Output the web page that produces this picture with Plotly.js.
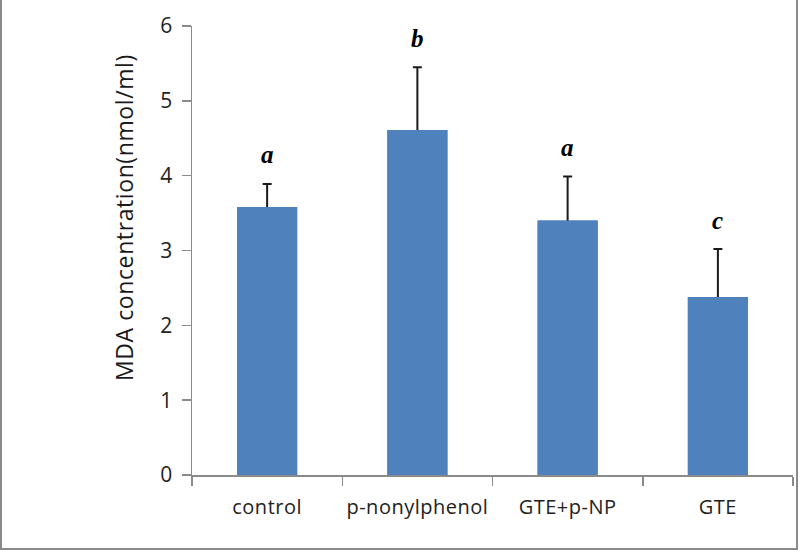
<!DOCTYPE html>
<html>
<head>
<meta charset="utf-8">
<script src="https://cdn.plot.ly/plotly-3.0.1.min.js"></script>
<style>
html,body{margin:0;padding:0;background:#fff;}
#wrap{position:relative;width:800px;height:553px;}
#chart{width:800px;height:553px;}
#frame{position:absolute;left:0;top:-3px;width:798px;height:553px;border:2px solid #8a8a8a;border-top:none;pointer-events:none;box-sizing:border-box;}
#chart .xtick text{letter-spacing:0.5px;}
</style>
</head>
<body>
<div id="wrap"><div id="chart"></div><div id="frame"></div></div>
<script>
var categories = ["control", "p-nonylphenol", "GTE+p-NP", "GTE"];
var means = [3.58, 4.61, 3.40, 2.38];
var errors = [0.31, 0.84, 0.59, 0.64];
var letters = ["a", "b", "a", "c"];
var yTicks = [0, 1, 2, 3, 4, 5, 6];
var yTitle = "MDA concentration(nmol/ml)";

var barColor = "#4F81BD";

// error bars (drawn first, then covered below the bar tops by the bars)
var errTrace = {
  type: "bar",
  x: categories,
  y: means,
  marker: {color: barColor, line: {width: 0}},
  error_y: {
    type: "data",
    symmetric: false,
    array: errors,
    arrayminus: errors.map(function(){return 0.15;}),
    color: "#1a1a1a",
    thickness: 2,
    width: 4.5
  },
  hoverinfo: "none"
};
var barTrace = {
  type: "bar",
  x: categories,
  y: means,
  marker: {color: barColor, line: {width: 0}},
  hoverinfo: "none"
};

var annotations = categories.map(function(c, i){
  return {
    x: c, y: means[i] + errors[i], xref: "x", yref: "y",
    text: "<b><i>" + letters[i] + "</i></b>",
    showarrow: false, yanchor: "middle", yshift: 29,
    font: {family: "Liberation Serif", size: 25, color: "#000"}
  };
});
annotations.push({
  xref: "paper", yref: "paper", x: -0.113, y: 0.572,
  text: yTitle, textangle: -90, showarrow: false,
  xanchor: "center", yanchor: "middle",
  font: {family: "Open Sans", size: 23, color: "#1a1a1a"}
});

var layout = {
  width: 800, height: 553,
  margin: {l: 192, r: 7, t: 26, b: 78},
  paper_bgcolor: "#fff", plot_bgcolor: "#fff",
  showlegend: false,
  barmode: "overlay",
  bargap: 0.6,
  font: {family: "Open Sans", color: "#222"},
  xaxis: {
    type: "category",
    showline: true, linecolor: "#8a8a8a", linewidth: 1.5,
    ticks: "outside", tickson: "boundaries", ticklen: 9, tickcolor: "#8a8a8a", tickwidth: 1.5,
    showgrid: false, zeroline: false,
    ticklabelstandoff: 13,
    tickfont: {family: "Open Sans", size: 20, color: "#222"}
  },
  yaxis: {
    range: [0, 6], tickvals: yTicks, ticktext: yTicks.map(String),
    showline: true, linecolor: "#8a8a8a", linewidth: 1.5,
    ticks: "outside", ticklen: 9, tickcolor: "#8a8a8a", tickwidth: 1.5,
    showgrid: false, zeroline: false,
    ticklabelstandoff: 5,
    tickfont: {family: "Open Sans", size: 21, color: "#222"}
  },
  annotations: annotations
};

Plotly.newPlot("chart", [errTrace, barTrace], layout, {displayModeBar: false, staticPlot: true}).then(function(){
  var anns = document.querySelectorAll("#chart .annotation-text");
  if (anns.length) { anns[anns.length-1].style.letterSpacing = "0.6px"; }
});
</script>
</body>
</html>
